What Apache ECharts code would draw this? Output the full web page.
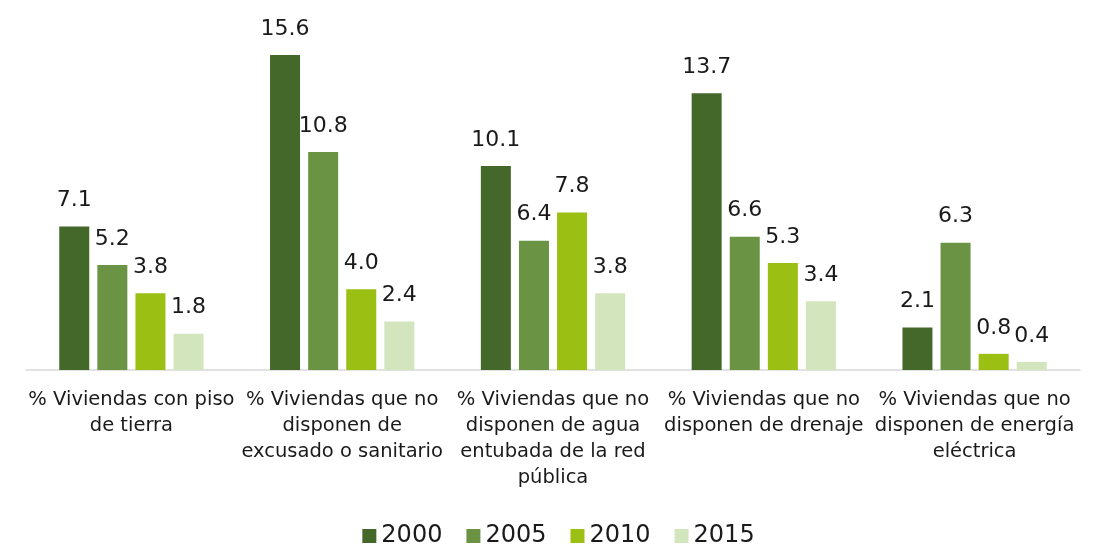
<!DOCTYPE html>
<html>
<head>
<meta charset="utf-8">
<script src="https://cdn.jsdelivr.net/npm/echarts@6/dist/echarts.min.js"></script>
<style>
  html, body { margin: 0; padding: 0; background: #fff; }
  #chart { width: 1117px; height: 544px; }
</style>
</head>
<body>
<div id="chart"></div>
<script>
// categorias (saltos de linea como en el original)
var categorias = [
  '% Viviendas con piso\nde tierra',
  '% Viviendas que no\ndisponen de\nexcusado o sanitario',
  '% Viviendas que no\ndisponen de agua\nentubada de la red\npública',
  '% Viviendas que no\ndisponen de drenaje',
  '% Viviendas que no\ndisponen de energía\neléctrica'
];
var anios = ['2000', '2005', '2010', '2015'];
var v2000 = [7.1, 15.6, 10.1, 13.7, 2.1];
var v2005 = [5.2, 10.8, 6.4, 6.6, 6.3];
var v2010 = [3.8, 4.0, 7.8, 5.3, 0.8];
var v2015 = [1.8, 2.4, 3.8, 3.4, 0.4];
var colores = ['#44672a', '#6a9443', '#9bbf12', '#d3e5bd'];

var fuente = 'DejaVu Sans';
var valores = [v2000, v2005, v2010, v2015];
var series = [];
for (var i = 0; i < anios.length; i++) {
  series.push({
    name: anios[i],
    type: 'bar',
    barWidth: 30,
    barGap: '27%',
    itemStyle: { color: colores[i] },
    label: {
      show: true,
      position: 'top',
      distance: 15,
      color: '#1a1a1a',
      fontFamily: fuente,
      fontSize: 22,
      formatter: function (p) { return p.value.toFixed(1); }
    },
    data: valores[i]
  });
}

var myChart = echarts.init(document.getElementById('chart'));
myChart.setOption({
  animation: false,
  color: colores,
  legend: {
    data: anios,
    left: 'center',
    top: 519,
    itemWidth: 14,
    itemHeight: 14,
    itemGap: 24,
    icon: 'rect',
    textStyle: { color: '#1a1a1a', fontFamily: fuente, fontSize: 24 }
  },
  grid: {
    left: 26,
    right: 37,
    top: 6.5,
    bottom: 174,
    containLabel: false
  },
  xAxis: {
    type: 'category',
    data: categorias,
    axisLine: { show: true, lineStyle: { color: '#d9d9d9', width: 1.5 } },
    axisTick: { show: false },
    axisLabel: {
      interval: 0,
      margin: 17,
      color: '#1a1a1a',
      fontFamily: fuente,
      fontSize: 19.5,
      lineHeight: 26
    }
  },
  yAxis: {
    type: 'value',
    min: 0,
    max: 18,
    show: false,
    splitLine: { show: false }
  },
  series: series
});
</script>
</body>
</html>
